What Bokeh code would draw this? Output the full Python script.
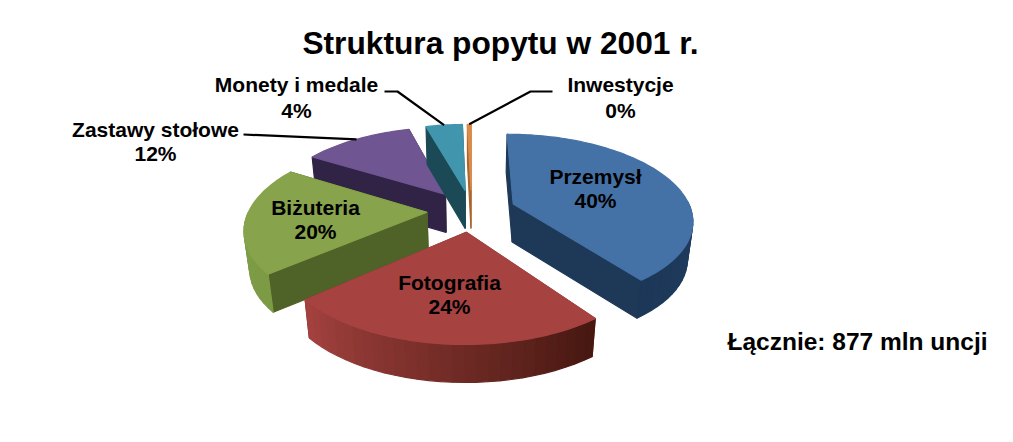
import math
from bokeh.plotting import figure
from bokeh.models import Range1d, ColumnDataSource
from bokeh.core.properties import value
from bokeh.embed import file_html
from bokeh.resources import INLINE

# ---- data ----
categories = ["Przemysł", "Fotografia", "Biżuteria", "Zastawy stołowe", "Monety i medale", "Inwestycje"]
shares = [40, 24, 20, 12, 4, 0.4]
share_labels = ["40%", "24%", "20%", "12%", "4%", "0%"]
title_text = "Struktura popytu w 2001 r."
total_text = "Łącznie: 877 mln uncji"

# ---- style ----
top_colors = ["#4472a6", "#a64341", "#87a34b", "#6f5592", "#4196ae", "#dd8a45"]
radial_colors = ["#1e3858", "#7d302e", "#4f6228", "#302345", "#1b4a56", "#a8642c"]
wall_near = ["#2a4a72", "#451710", "#7d9a45", "#302345", "#1b4a56", "#a8642c"]  # at smaller angle
wall_far = ["#1c3757", "#a4423f", "#80a048", "#302345", "#1b4a56", "#a8642c"]   # at larger angle
CX, CY, C, A, B, DEPTH, EXPLODE, SHRINK = 471, 210, 178, 84, 0.174, 38, 0.25, 0.025


def project(X, Z, h=0):
    den = 1 - B * Z
    return (CX + C * X / den * (1 - SHRINK * h), CY + A * Z / den + DEPTH * h)


def mix(c1, c2, t):
    a = [int(c1[i:i + 2], 16) for i in (1, 3, 5)]
    b = [int(c2[i:i + 2], 16) for i in (1, 3, 5)]
    return "#%02x%02x%02x" % tuple(round(u + (v - u) * t) for u, v in zip(a, b))


total = sum(shares)
slices = []
ang = 0.0
for i, s in enumerate(shares):
    sweep = 360 * s / total
    slices.append((i, ang, ang + sweep))
    ang += sweep


def apex(a0, a1):
    m = math.radians((a0 + a1) / 2)
    return EXPLODE * math.sin(m), -EXPLODE * math.cos(m)


def rim(a0, a1, t):
    ax, az = apex(a0, a1)
    r = math.radians(t)
    return ax + math.sin(r), az - math.cos(r)


xs, ys, cols = [], [], []


def add(points, col):
    xs.append([q[0] for q in points])
    ys.append([q[1] for q in points])
    cols.append(col)


for i, a0, a1 in [slices[k] for k in (3, 4, 5, 2, 0, 1)]:
    ax, az = apex(a0, a1)
    # radial faces, far one first
    faces = sorted([a0, a1], key=lambda t: rim(a0, a1, t)[1])
    for t in faces:
        X, Z = rim(a0, a1, t)
        add([project(ax, az), project(X, Z), project(X, Z, 1), project(ax, az, 1)], radial_colors[i])
    # outer wall
    n = max(2, int((a1 - a0) / 3))
    for k in range(n):
        t0 = a0 + (a1 - a0) * k / n
        t1 = a0 + (a1 - a0) * (k + 1) / n
        if math.cos(math.radians((t0 + t1) / 2)) > 0.02:
            continue
        P0, P1 = rim(a0, a1, t0), rim(a0, a1, t1)
        add([project(*P0), project(*P1), project(*P1, 1), project(*P0, 1)],
            mix(wall_near[i], wall_far[i], (k + .5) / n))
    # top
    n = max(2, int((a1 - a0) / 1.5))
    pts = [project(ax, az)] + [project(*rim(a0, a1, a0 + (a1 - a0) * k / n)) for k in range(n + 1)]
    add(pts, top_colors[i])

p = figure(width=1013, height=442, output_backend="svg", toolbar_location=None,
           x_range=Range1d(0, 1013), y_range=Range1d(442, 0),
           min_border=0, outline_line_color=None, background_fill_color="white")
p.axis.visible = False
p.grid.visible = False

p.patches(xs="xs", ys="ys", fill_color="c", line_color="c", line_width=1.2,
          source=ColumnDataSource(dict(xs=xs, ys=ys, c=cols)))

# leader lines end on the slices' rims
anchors = {3: [(243, 134)], 4: [(384, 91), (397, 91)], 5: [(552, 91), (530, 91)]}
for i, pre in anchors.items():
    _, a0, a1 = slices[i]
    end = project(*rim(a0, a1, (a0 + a1) / 2))
    pts = pre + [end]
    p.line([q[0] for q in pts], [q[1] for q in pts], line_color="black", line_width=2.2)

FONT = value("Liberation Sans")


def label(x, y, txt, size):
    p.text([x], [y], text=[txt], text_font=FONT, text_font_style="bold", text_font_size=size,
           text_color="black", text_align="center", text_baseline="middle")


label(500, 42, title_text, "31.7px")
label(857, 341, total_text, "24.5px")
label(296, 83.5, categories[4], "21px"); label(296, 109.5, share_labels[4], "21px")
label(620, 83.5, categories[5], "21px"); label(620, 109.5, share_labels[5], "21px")
label(155, 129, categories[3], "21px"); label(155, 153, share_labels[3], "21px")
label(595, 175.5, categories[0], "21px"); label(595, 199.5, share_labels[0], "21px")
label(315, 207, categories[2], "21px"); label(315, 231, share_labels[2], "21px")
label(449, 282, categories[1], "21px"); label(449, 306, share_labels[1], "21px")

open("out.html", "w").write(file_html(p, INLINE))
